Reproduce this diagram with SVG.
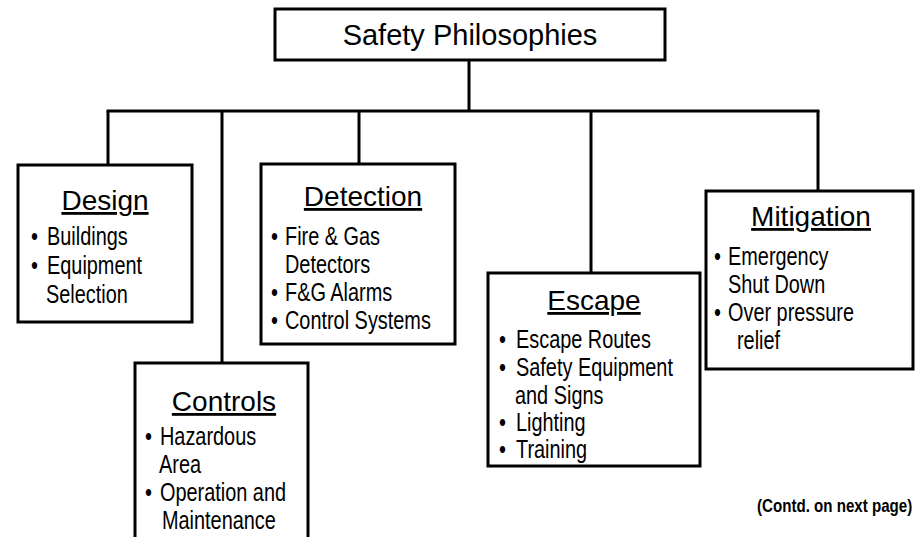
<svg xmlns="http://www.w3.org/2000/svg" width="919" height="537" viewBox="0 0 919 537">
  <style>
    .box{fill:#fff;stroke:#000;stroke-width:3}
    .wire{fill:none;stroke:#000;stroke-width:3}
    text{font-family:"Liberation Sans",Arial,sans-serif;fill:#000}
    .title{font-size:29px;text-anchor:middle}
    .head{font-size:28px;text-anchor:middle;text-decoration:underline}
    .item{font-size:25.5px}
    .note{font-size:18px;font-weight:bold}
  </style>
  <rect width="919" height="537" fill="#fff"/>

  <!-- tree connectors -->
  <g id="connectors" class="wire">
    <line x1="469" y1="60" x2="469" y2="111"/>
    <line x1="106.5" y1="111" x2="819.5" y2="111"/>
    <line x1="108" y1="111" x2="108" y2="165"/>
    <line x1="222" y1="111" x2="222" y2="363"/>
    <line x1="359" y1="111" x2="359" y2="164"/>
    <line x1="591" y1="111" x2="591" y2="273"/>
    <line x1="818" y1="111" x2="818" y2="191"/>
  </g>

  <g id="root">
    <rect class="box" x="275" y="9" width="390" height="51"/>
    <text class="title" x="470" y="45">Safety Philosophies</text>
  </g>

  <g id="design">
    <rect class="box" x="18" y="165" width="174" height="157"/>
    <text class="head" x="105" y="210">Design</text>
    <text class="item" transform="translate(31,245) scale(0.78,1)">•</text>
    <text class="item" transform="translate(47,245) scale(0.78,1)">Buildings</text>
    <text class="item" transform="translate(31,274) scale(0.78,1)">•</text>
    <text class="item" transform="translate(47,274) scale(0.78,1)">Equipment</text>
    <text class="item" transform="translate(46,303) scale(0.78,1)">Selection</text>
  </g>

  <g id="detection">
    <rect class="box" x="261" y="164" width="194" height="180"/>
    <text class="head" x="363" y="206">Detection</text>
    <text class="item" transform="translate(271,245) scale(0.78,1)">•</text>
    <text class="item" transform="translate(285,245) scale(0.78,1)">Fire &amp; Gas</text>
    <text class="item" transform="translate(285,273) scale(0.78,1)">Detectors</text>
    <text class="item" transform="translate(271,301) scale(0.78,1)">•</text>
    <text class="item" transform="translate(285,301) scale(0.78,1)">F&amp;G Alarms</text>
    <text class="item" transform="translate(271,329) scale(0.78,1)">•</text>
    <text class="item" transform="translate(285,329) scale(0.78,1)">Control Systems</text>
  </g>

  <g id="controls">
    <rect class="box" x="135" y="363" width="173" height="200"/>
    <text class="head" x="224" y="411">Controls</text>
    <text class="item" transform="translate(145,445) scale(0.78,1)">•</text>
    <text class="item" transform="translate(160,445) scale(0.78,1)">Hazardous</text>
    <text class="item" transform="translate(159,473) scale(0.78,1)">Area</text>
    <text class="item" transform="translate(145,501) scale(0.78,1)">•</text>
    <text class="item" transform="translate(160,501) scale(0.78,1)">Operation and</text>
    <text class="item" transform="translate(162,529) scale(0.78,1)">Maintenance</text>
  </g>

  <g id="escape">
    <rect class="box" x="488" y="273" width="212" height="193"/>
    <text class="head" x="594" y="310">Escape</text>
    <text class="item" transform="translate(499,348) scale(0.78,1)">•</text>
    <text class="item" transform="translate(516,348) scale(0.78,1)">Escape Routes</text>
    <text class="item" transform="translate(499,376) scale(0.78,1)">•</text>
    <text class="item" transform="translate(516,376) scale(0.78,1)">Safety Equipment</text>
    <text class="item" transform="translate(515,404) scale(0.78,1)">and Signs</text>
    <text class="item" transform="translate(499,431) scale(0.78,1)">•</text>
    <text class="item" transform="translate(516,431) scale(0.78,1)">Lighting</text>
    <text class="item" transform="translate(499,458) scale(0.78,1)">•</text>
    <text class="item" transform="translate(516,458) scale(0.78,1)">Training</text>
  </g>

  <g id="mitigation">
    <rect class="box" x="706" y="191" width="207" height="178"/>
    <text class="head" x="811" y="226">Mitigation</text>
    <text class="item" transform="translate(714,265) scale(0.78,1)">•</text>
    <text class="item" transform="translate(728,265) scale(0.78,1)">Emergency</text>
    <text class="item" transform="translate(728,293) scale(0.78,1)">Shut Down</text>
    <text class="item" transform="translate(714,321) scale(0.78,1)">•</text>
    <text class="item" transform="translate(728,321) scale(0.78,1)">Over pressure</text>
    <text class="item" transform="translate(737,349) scale(0.78,1)">relief</text>
  </g>

  <text class="note" transform="translate(757,512) scale(0.84,1)">(Contd. on next page)</text>
</svg>
